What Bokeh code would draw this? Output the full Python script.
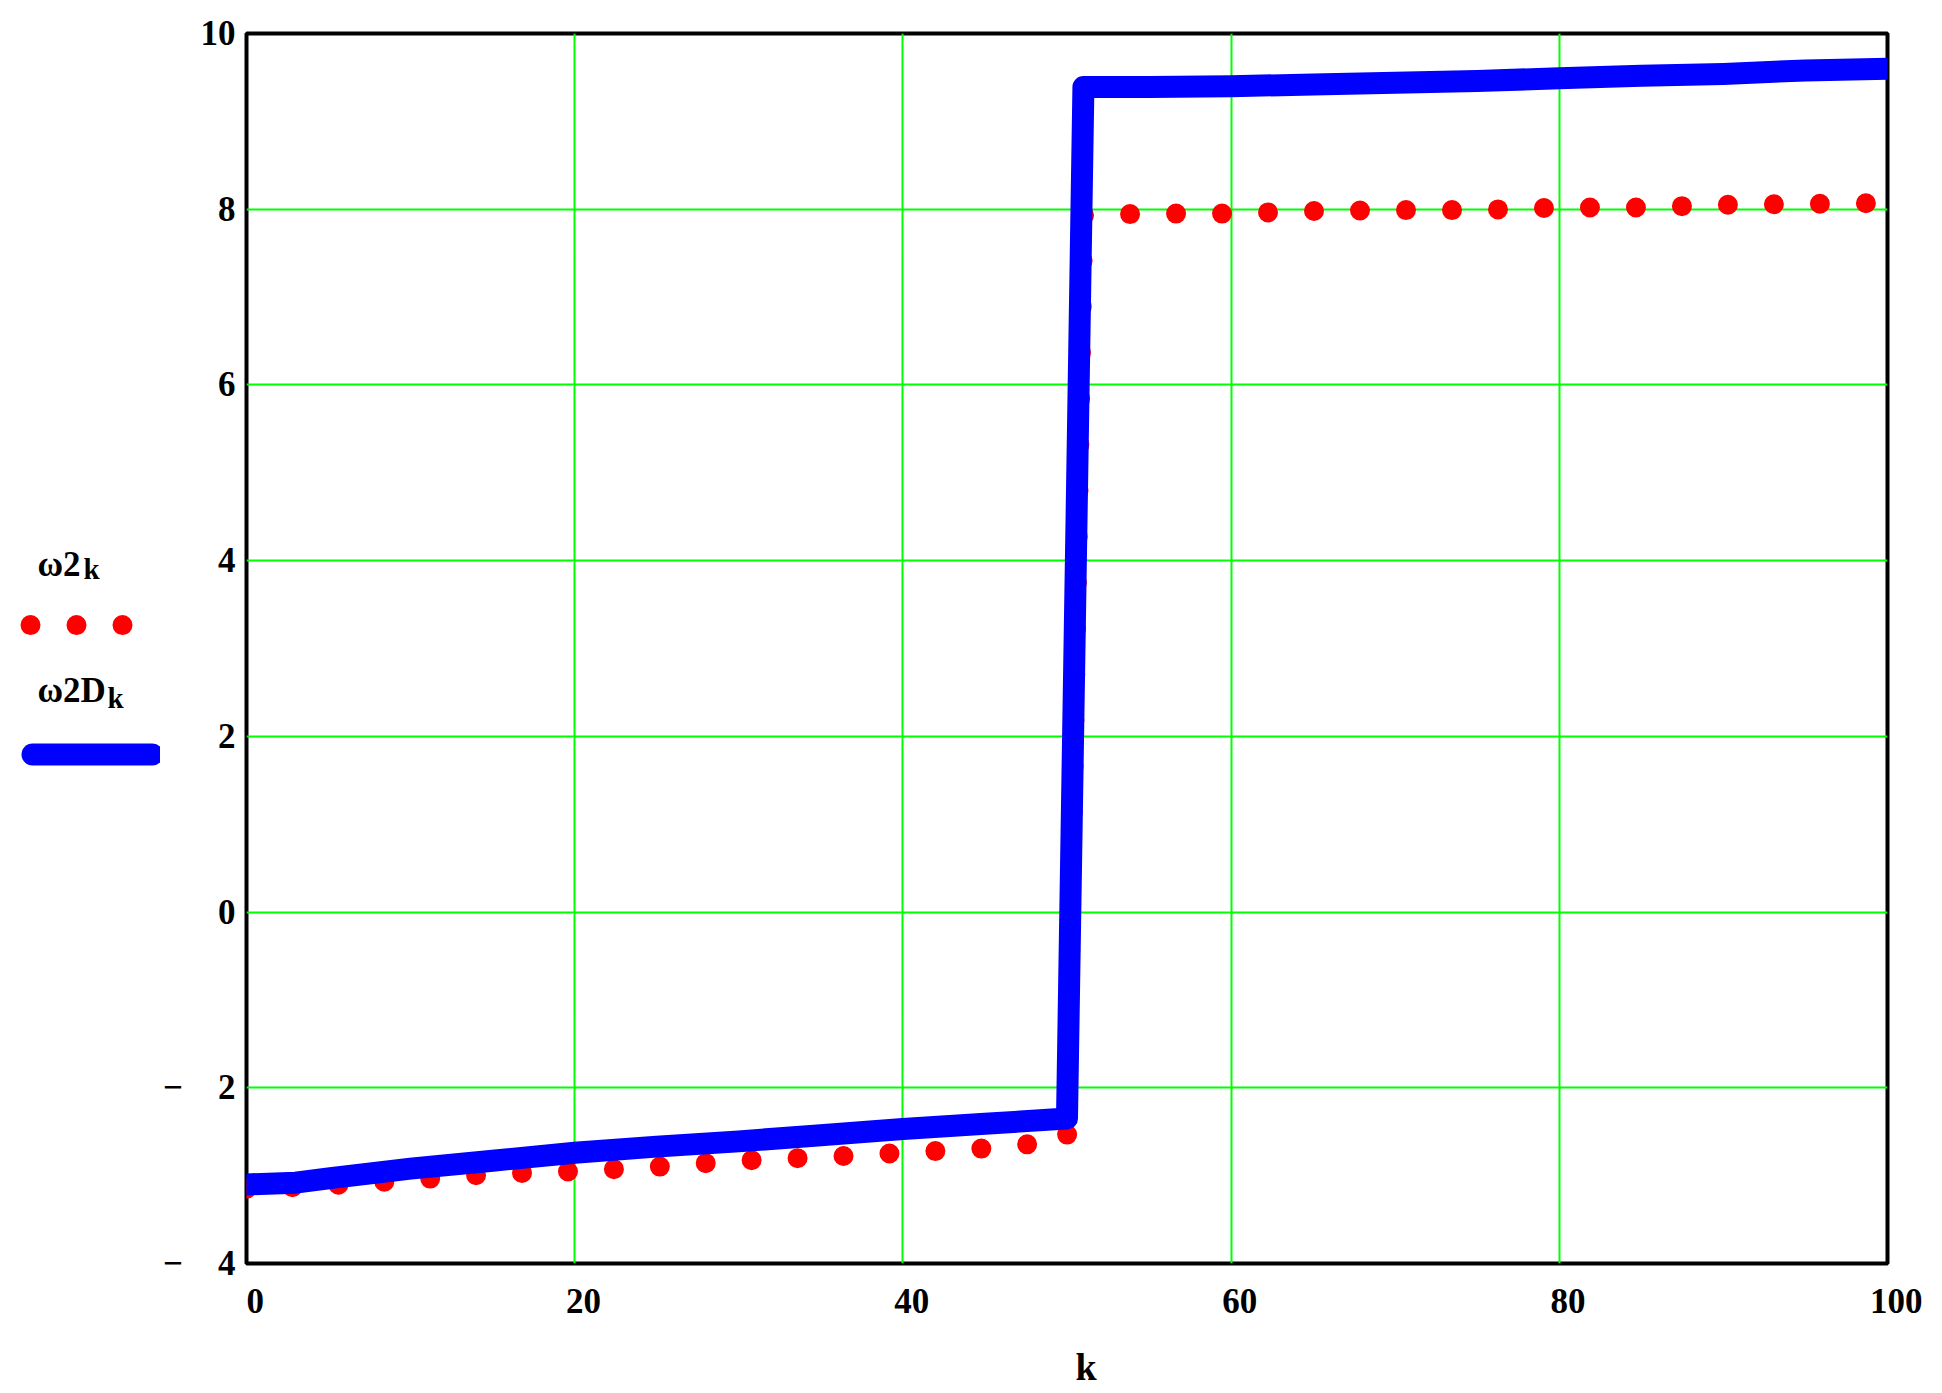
from bokeh.plotting import figure
from bokeh.layouts import row
from bokeh.models import Range1d, SingleIntervalTicker
from bokeh.core.properties import value
from bokeh.embed import file_html
from bokeh.resources import INLINE

# ---- data ----
k = [0, 3, 5, 10, 15, 20, 25, 30, 35, 40, 45, 50,
     51, 55, 60, 65, 70, 75, 80, 85, 90, 95, 100]
w2 = [-3.15, -3.13, -3.11, -3.05, -2.98, -2.95, -2.90, -2.83, -2.79, -2.74, -2.69, -2.60,
      7.93, 7.95, 7.95, 7.98, 7.99, 7.99, 8.02, 8.02, 8.05, 8.06, 8.07]
w2D = [-3.10, -3.08, -3.03, -2.92, -2.83, -2.74, -2.67, -2.61, -2.54, -2.47, -2.41, -2.35,
       9.39, 9.39, 9.40, 9.42, 9.44, 9.46, 9.49, 9.52, 9.54, 9.58, 9.60]
x_ticks = [0, 20, 40, 60, 80, 100]
y_ticks = [-4, -2, 0, 2, 4, 6, 8, 10]
x_tick_labels = {t: "\u2002" + str(t) for t in x_ticks}
y_tick_labels = {-4: "\u2212\u2002\u20024", -2: "\u2212\u2002\u20022"}
legend_names = ["\u03c92", "\u03c92D"]
legend_sub = "k"
x_title = "k"

FONT = "Liberation Serif"
RED, BLUE, GREEN = "#ff0000", "#0000ff", "#00ff00"

H = 1390
WL = 160                      # legend strip width
WM = 1780                     # main figure width
FL, FR, FT, FB = 245, 1887, 33, 1268   # frame edges on the page

# ---------------- main chart ----------------
p = figure(width=WM, height=H, output_backend="svg", toolbar_location=None,
           x_range=Range1d(0, 100), y_range=Range1d(-4, 10),
           min_border_left=FL - WL, min_border_right=WL + WM - FR,
           min_border_top=FT, min_border_bottom=H - FB,
           background_fill_color="white", border_fill_color="white")

p.outline_line_color = "black"
p.outline_line_width = 4

p.xaxis.ticker = SingleIntervalTicker(interval=20)
p.yaxis.ticker = SingleIntervalTicker(interval=2)
p.xaxis.major_label_overrides = x_tick_labels
p.yaxis.major_label_overrides = y_tick_labels
for ax in (p.xaxis[0], p.yaxis[0]):
    ax.axis_line_color = None
    ax.major_tick_line_color = None
    ax.minor_tick_line_color = None
    ax.major_tick_out = 0
    ax.major_tick_in = 0
    ax.major_label_text_font = FONT
    ax.major_label_text_font_style = "bold"
    ax.major_label_text_font_size = "35px"
    ax.major_label_text_color = "black"
p.xaxis.major_label_standoff = 14
p.yaxis.major_label_standoff = 7

p.xaxis.axis_label = "\u2002\u2002" + x_title
p.xaxis.axis_label_text_font = FONT
p.xaxis.axis_label_text_font_style = "bold"
p.xaxis.axis_label_text_font_size = "38px"
p.xaxis.axis_label_text_color = "black"
p.xaxis.axis_label_standoff = 22

p.xgrid.ticker = SingleIntervalTicker(interval=20)
p.ygrid.ticker = SingleIntervalTicker(interval=2)
p.grid.grid_line_color = GREEN
p.grid.grid_line_width = 2

p.line(k, w2, line_color=RED, line_width=20, line_dash="0 46",
       line_cap="round", line_join="round")
p.line(k, w2D, line_color=BLUE, line_width=22,
       line_cap="round", line_join="round")

# ---------------- legend strip (page-pixel coordinates) ----------------
# the row aligns this strip's frame with the chart frame (page y 33..1268)
lg = figure(width=WL, height=H, output_backend="svg", toolbar_location=None,
            x_range=Range1d(0, WL), y_range=Range1d(FB, FT),
            min_border=0, min_border_top=FT, min_border_bottom=H - FB,
            background_fill_color="white", border_fill_color="white")
lg.axis.visible = False
lg.grid.visible = False
lg.outline_line_color = None

def txt(fig, t, x, y, size):
    fig.text(x=[x], y=[y], text=[t], text_font=value(FONT), text_font_style="bold",
             text_font_size=value(size), text_color="black",
             text_align="left", text_baseline="alphabetic")

txt(lg, legend_names[0], 37, 566, "35px")
txt(lg, legend_sub, 83, 571, "29px")
txt(lg, legend_names[1], 37, 693, "35px")
txt(lg, legend_sub, 107, 700, "29px")

# legend samples: dotted red trace, thick blue trace
lg.line([30, 130], [627, 627], line_color=RED, line_width=20, line_dash="0 46",
        line_cap="round")
lg.line([32, 152], [757, 757], line_color=BLUE, line_width=22, line_cap="round")

layout = row(lg, p)
open("out.html", "w").write(file_html(layout, INLINE))
